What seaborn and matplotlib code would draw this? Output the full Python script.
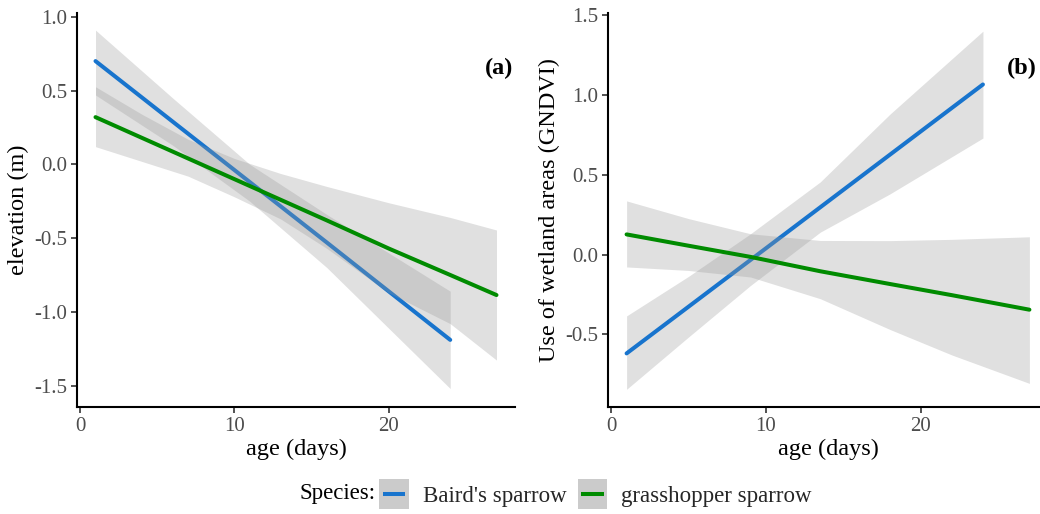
import numpy as np
import pandas as pd
import matplotlib
matplotlib.use("Agg")
import matplotlib.pyplot as plt
import seaborn as sns
from matplotlib.patches import Rectangle
from matplotlib.lines import Line2D
from matplotlib.legend_handler import HandlerBase

# ---------------- data ----------------
species = ["Baird's sparrow", "grasshopper sparrow"]
colors = ["#1874CD", "#008B00"]

# Panel (a): elevation (m)
a_baird_age = [1, 6, 11, 16, 20, 24]
a_baird_fit = [0.70, 0.29, -0.12, -0.53, -0.86, -1.19]
a_baird_upr = [0.91, 0.45, 0.00, -0.34, -0.60, -0.86]
a_baird_lwr = [0.47, 0.13, -0.25, -0.70, -1.11, -1.52]

a_grass_age = [1, 4, 7, 10, 13, 16, 20, 24, 27]
a_grass_fit = [0.32, 0.18, 0.04, -0.10, -0.24, -0.38, -0.57, -0.75, -0.886]
a_grass_upr = [0.526, 0.34, 0.17, 0.04, -0.062, -0.15, -0.26, -0.36, -0.445]
a_grass_lwr = [0.12, 0.02, -0.08, -0.22, -0.37, -0.57, -0.87, -1.08, -1.327]

# Panel (b): use of wetland areas (GNDVI)
b_baird_age = [1, 5, 9, 13.5, 18, 24]
b_baird_fit = [-0.62, -0.327, -0.034, 0.296, 0.626, 1.066]
b_baird_upr = [-0.385, -0.137, 0.13, 0.455, 0.88, 1.40]
b_baird_lwr = [-0.845, -0.517, -0.194, 0.14, 0.38, 0.73]

b_grass_age = [1, 5, 9, 13.5, 18, 22, 27]
b_grass_fit = [0.126, 0.055, -0.015, -0.105, -0.185, -0.255, -0.346]
b_grass_upr = [0.336, 0.225, 0.13, 0.088, 0.087, 0.095, 0.111]
b_grass_lwr = [-0.078, -0.10, -0.141, -0.277, -0.47, -0.63, -0.808]

x_ticks = [0, 10, 20]
a_yticks = [1.0, 0.5, 0.0, -0.5, -1.0, -1.5]
b_yticks = [1.5, 1.0, 0.5, 0.0, -0.5]
a_ylabel = "elevation (m)"
b_ylabel = "Use of wetland areas (GNDVI)"
x_label = "age (days)"
panel_tags = ["(a)", "(b)"]
legend_title = "Species:"


def frame(ages, fit, lwr, upr, sp):
    return pd.DataFrame({"age": ages, "fit": fit, "lwr": lwr, "upr": upr, "species": sp})


panels = [
    [frame(a_baird_age, a_baird_fit, a_baird_lwr, a_baird_upr, species[0]),
     frame(a_grass_age, a_grass_fit, a_grass_lwr, a_grass_upr, species[1])],
    [frame(b_baird_age, b_baird_fit, b_baird_lwr, b_baird_upr, species[0]),
     frame(b_grass_age, b_grass_fit, b_grass_lwr, b_grass_upr, species[1])],
]

# ---------------- style ----------------
sns.set_theme(style="ticks")
plt.rcParams["font.family"] = ["Liberation Serif", "DejaVu Serif"]

W, H = 1040, 514
fig = plt.figure(figsize=(W / 100, H / 100), dpi=100)


def px_axes(l, t, r, b):
    return fig.add_axes([l / W, 1 - b / H, (r - l) / W, (b - t) / H])


axes = [px_axes(77, 13, 515, 407), px_axes(608, 13, 1048, 407)]
ylabels = [a_ylabel, b_ylabel]
yticks = [a_yticks, b_yticks]
ylims = [(-1.645, 1.026), (-0.956, 1.514)]
tag_x = [0.995, 0.975]

for i, ax in enumerate(axes):
    z = 2
    for j, df in enumerate(panels[i]):
        ax.fill_between(df["age"], df["lwr"], df["upr"], color="#999999",
                        alpha=0.3, linewidth=0, zorder=z)
        sns.lineplot(data=df, x="age", y="fit", color=colors[j], linewidth=2.9,
                     ax=ax, zorder=z + 1, legend=False)
        z += 2
    ax.set_xlim(-0.2, 28.2)
    ax.set_ylim(*ylims[i])
    ax.set_xticks(x_ticks)
    ax.set_xticklabels([str(v) for v in x_ticks])
    ax.set_yticks(yticks[i])
    ax.set_yticklabels([f"{v:.1f}" for v in yticks[i]])
    ax.set_xlabel(x_label, fontsize=17.5, color="black", labelpad=2)
    ax.set_ylabel(ylabels[i], fontsize=17.5, color="black", labelpad=4)
    ax.tick_params(axis="both", labelsize=15, colors="#4D4D4D", length=4.5,
                   width=1.2, pad=2.5)
    ax.tick_params(axis="both", color="#333333")
    for s in ["top", "right"]:
        ax.spines[s].set_visible(False)
    for s in ["left", "bottom"]:
        ax.spines[s].set_color("black")
        ax.spines[s].set_linewidth(1.5)
    ax.set_facecolor("white")
    ax.grid(False)
    ax.text(tag_x[i], 0.858, panel_tags[i], transform=ax.transAxes, ha="right",
            va="center", fontsize=17.5, fontweight="bold", color="black")


# ---------------- legend ----------------
class KeyHandler(HandlerBase):
    def create_artists(self, legend, orig_handle, xdescent, ydescent,
                       width, height, fontsize, trans):
        rect = Rectangle((-xdescent, -ydescent), width, height,
                         facecolor="#CBCBCB", edgecolor="none", transform=trans)
        cy = -ydescent + height / 2
        m = width * 0.12
        line = Line2D([-xdescent + m, -xdescent + width - m], [cy, cy],
                      color=orig_handle.get_color(), linewidth=2.9,
                      solid_capstyle="butt", transform=trans)
        return [rect, line]


handles = [Line2D([0], [0], color=c) for c in colors]
fig.legend(handles, species, ncol=2, loc="center left",
           bbox_to_anchor=(379 / W, 1 - 494 / H), frameon=False,
           fontsize=16.5, handlelength=1.3, handleheight=1.6,
           handletextpad=0.6, columnspacing=0.5, borderpad=0, borderaxespad=0,
           handler_map={Line2D: KeyHandler()})
fig.text(376 / W, 1 - 494 / H, legend_title, ha="right", va="center",
         fontsize=16.5, color="black")

fig.savefig("out.png", dpi=100, facecolor="white")
